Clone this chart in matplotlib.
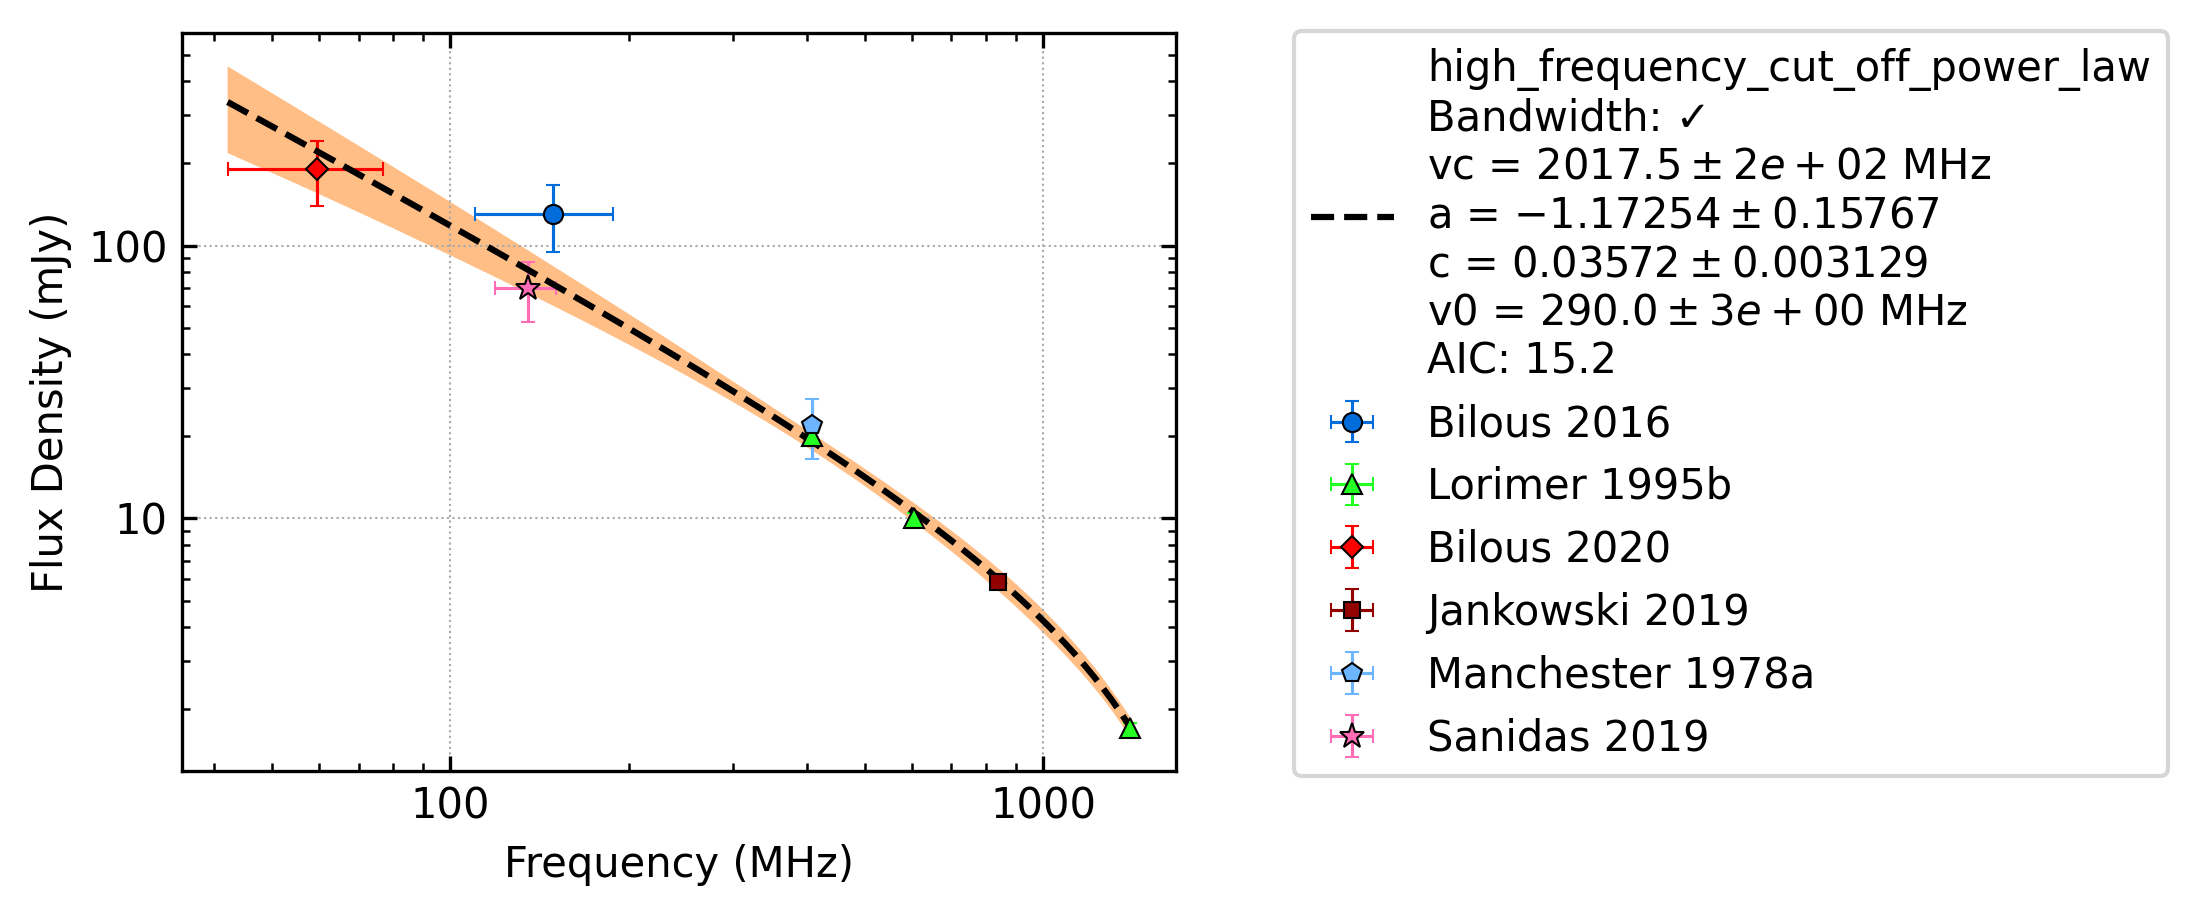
import numpy as np
import matplotlib
matplotlib.use("Agg")
import matplotlib.pyplot as plt
from matplotlib.ticker import ScalarFormatter, NullFormatter

# ---- fit parameters (as printed in the legend) ----
model_name = "high_frequency_cut_off_power_law"
vc, vc_err = 2017.5, 200.0      # MHz
a, a_err = -1.17254, 0.15767
c, c_err = 0.03572, 0.003129    # Jy
v0, v0_err = 290.0, 3.0         # MHz
aic = 15.2
# estimated parameter correlations
corr_vc_a, corr_vc_c, corr_a_c = -0.85, 0.0, -0.4

# ---- measurements ----
refs = ["Bilous 2016", "Lorimer 1995b", "Bilous 2020", "Jankowski 2019",
        "Manchester 1978a", "Sanidas 2019"]
freqs = [[149], [408, 606, 1400], [59.6], [840], [408], [135]]
freq_errs = [[39], [2, 3, 5], [17.5], [2], [2], [16]]
fluxes = [[131], [20, 10, 1.7], [191], [5.85], [22], [70]]
flux_errs = [[36], [1.0, 0.5, 0.085], [51], [0.3], [5.5], [17.4]]
colors = ["#006ddb", "#24ff24", "#ff0000", "#920000", "#6db6ff", "#ff6db6"]
markers = ["o", "^", "D", "s", "p", "*"]
msizes = [4.6, 5.0, 3.7, 4.0, 4.8, 6.3]

# ---- model curve and propagated uncertainty ----
fmin = min(f - e for fl, el in zip(freqs, freq_errs) for f, e in zip(fl, el))
fmax = max(f for fl in freqs for f in fl)
fit_freq = np.logspace(np.log10(fmin), np.log10(fmax), 100)
A = c * 1000 * (fit_freq / v0) ** a
fit_flux = A * (1 - fit_freq / vc)
grad = np.vstack([A * fit_freq / vc ** 2,
                  fit_flux * np.log(fit_freq / v0),
                  fit_flux / c])
sig = np.array([vc_err, a_err, c_err])
R = np.array([[1, corr_vc_a, corr_vc_c],
              [corr_vc_a, 1, corr_a_c],
              [corr_vc_c, corr_a_c, 1]])
cov = R * np.outer(sig, sig)
fit_err = np.sqrt(np.einsum("in,ij,jn->n", grad, cov, grad))

label = "\n".join([
    model_name,
    "Bandwidth: \u2713",
    f"vc = ${vc:.1f} \\pm {vc_err:.0e}$ MHz",
    f"a = ${a:.5f} \\pm {a_err:.5f}$",
    f"c = ${c:.5f} \\pm {c_err:.4g}$",
    f"v0 = ${v0:.1f} \\pm {v0_err:.0e}$ MHz",
    f"AIC: {aic}",
])

fig = plt.figure(figsize=(2198 / 300, 917 / 300), dpi=300)
ax = fig.add_axes([0.0830, 0.1592, 0.4520, 0.8050])

ax.fill_between(fit_freq, fit_flux - fit_err, fit_flux + fit_err,
                facecolor="C1", alpha=0.5, linewidth=0, zorder=1)
ax.plot(fit_freq, fit_flux, "k--", lw=1.5, label=label, zorder=3)

for ref, f, fe, s, se, col, m, ms in zip(refs, freqs, freq_errs, fluxes,
                                         flux_errs, colors, markers, msizes):
    cont = ax.errorbar(f, s, xerr=fe, yerr=se, fmt=m, color=col, mec="k",
                       mew=0.5, ms=ms, elinewidth=0.75, capsize=1.6,
                       capthick=0.75, label=ref, zorder=2)
    cont[0].set_zorder(4)

ax.set_xscale("log")
ax.set_yscale("log")
for axis in (ax.xaxis, ax.yaxis):
    axis.set_major_formatter(ScalarFormatter())
    axis.set_minor_formatter(NullFormatter())
ax.tick_params(which="both", direction="in", top=True, right=True)
ax.grid(True, which="major", ls=":", lw=0.5, color="#a8a8a8")
ax.set_xlabel("Frequency (MHz)")
ax.set_ylabel("Flux Density (mJy)")

ax.legend(loc="upper left", bbox_to_anchor=(0.5887, 0.9662),
          bbox_transform=fig.transFigure, borderaxespad=0)

fig.savefig("out.png", dpi=300)
